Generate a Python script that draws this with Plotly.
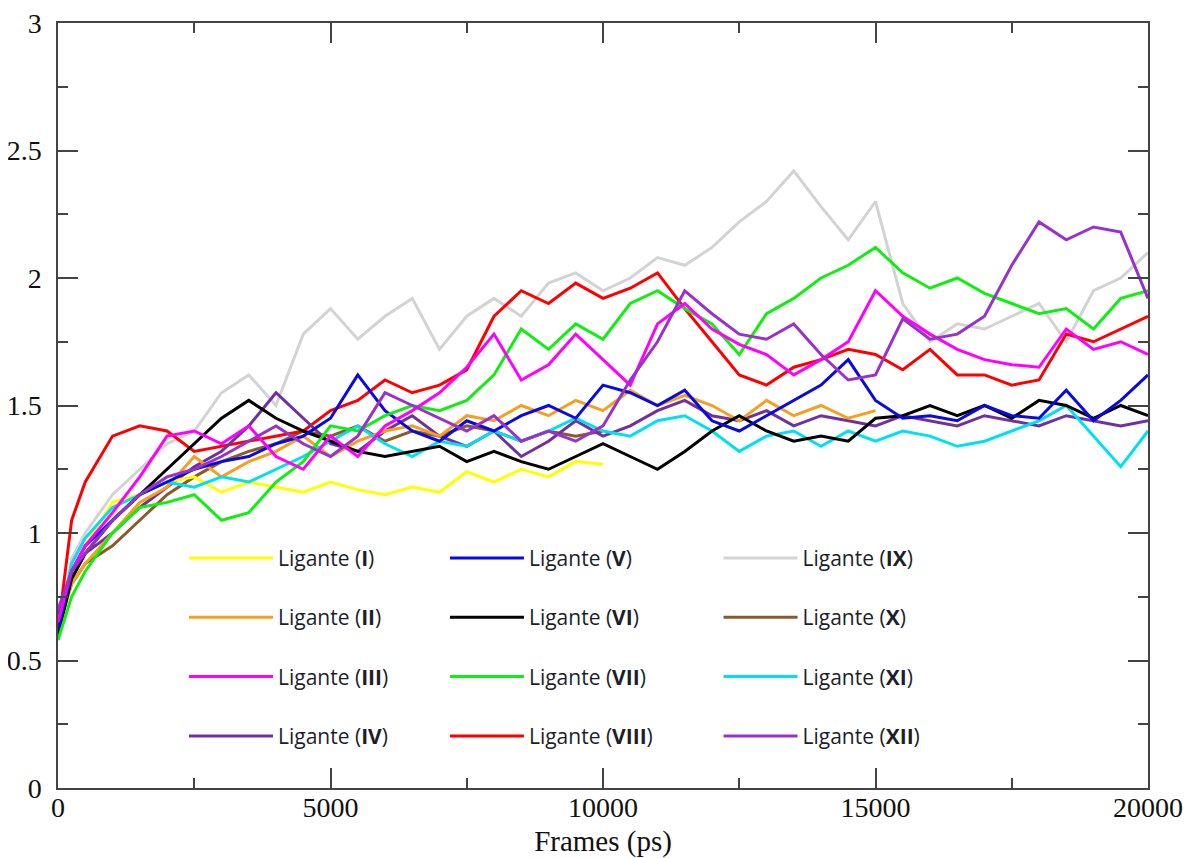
import plotly.graph_objects as go

# ---- data ----
frames = [0, 250, 500, 1000, 1500, 2000, 2500, 3000, 3500, 4000, 4500, 5000,
          5500, 6000, 6500, 7000, 7500, 8000, 8500, 9000, 9500, 10000,
          10500, 11000, 11500, 12000, 12500, 13000, 13500, 14000, 14500, 15000,
          15500, 16000, 16500, 17000, 17500, 18000, 18500, 19000, 19500, 20000]

lig_I = [0.60, 0.82, 0.95, 1.12, 1.15, 1.20, 1.22, 1.16, 1.20, 1.18, 1.16, 1.20,
         1.17, 1.15, 1.18, 1.16, 1.24, 1.20, 1.25, 1.22, 1.28, 1.27]
lig_II = [0.62, 0.80, 0.88, 1.00, 1.12, 1.18, 1.30, 1.22, 1.28, 1.32, 1.38, 1.30,
          1.36, 1.40, 1.42, 1.38, 1.46, 1.44, 1.50, 1.46, 1.52, 1.48,
          1.56, 1.50, 1.54, 1.50, 1.44, 1.52, 1.46, 1.50, 1.45, 1.48]
lig_III = [0.65, 0.85, 0.95, 1.08, 1.22, 1.38, 1.40, 1.35, 1.42, 1.30, 1.25, 1.38,
           1.30, 1.42, 1.48, 1.55, 1.65, 1.78, 1.60, 1.66, 1.78, 1.68,
           1.58, 1.82, 1.90, 1.80, 1.74, 1.70, 1.62, 1.68, 1.75, 1.95,
           1.85, 1.78, 1.72, 1.68, 1.66, 1.65, 1.80, 1.72, 1.75, 1.70]
lig_IV = [0.68, 0.82, 0.92, 1.00, 1.10, 1.18, 1.26, 1.32, 1.42, 1.55, 1.45, 1.35,
          1.32, 1.40, 1.46, 1.38, 1.34, 1.40, 1.30, 1.36, 1.44, 1.38,
          1.42, 1.48, 1.52, 1.46, 1.44, 1.48, 1.42, 1.46, 1.44, 1.42,
          1.46, 1.44, 1.42, 1.46, 1.44, 1.42, 1.46, 1.44, 1.42, 1.44]
lig_V = [0.62, 0.85, 0.95, 1.05, 1.15, 1.20, 1.25, 1.28, 1.30, 1.35, 1.38, 1.45,
         1.62, 1.48, 1.40, 1.36, 1.44, 1.40, 1.46, 1.50, 1.45, 1.58,
         1.55, 1.50, 1.56, 1.44, 1.40, 1.46, 1.52, 1.58, 1.68, 1.52,
         1.45, 1.46, 1.44, 1.50, 1.46, 1.45, 1.56, 1.44, 1.52, 1.62]
lig_VI = [0.60, 0.82, 0.92, 1.05, 1.15, 1.25, 1.35, 1.45, 1.52, 1.45, 1.40, 1.36,
          1.32, 1.30, 1.32, 1.34, 1.28, 1.32, 1.28, 1.25, 1.30, 1.35,
          1.30, 1.25, 1.32, 1.40, 1.46, 1.40, 1.36, 1.38, 1.36, 1.45,
          1.46, 1.50, 1.46, 1.50, 1.45, 1.52, 1.50, 1.45, 1.50, 1.46]
lig_VII = [0.58, 0.75, 0.85, 1.00, 1.10, 1.12, 1.15, 1.05, 1.08, 1.20, 1.28, 1.42,
           1.40, 1.46, 1.50, 1.48, 1.52, 1.62, 1.80, 1.72, 1.82, 1.76,
           1.90, 1.95, 1.88, 1.82, 1.70, 1.86, 1.92, 2.00, 2.05, 2.12,
           2.02, 1.96, 2.00, 1.94, 1.90, 1.86, 1.88, 1.80, 1.92, 1.95]
lig_VIII = [0.62, 1.05, 1.20, 1.38, 1.42, 1.40, 1.32, 1.34, 1.36, 1.38, 1.40, 1.48,
            1.52, 1.60, 1.55, 1.58, 1.64, 1.85, 1.95, 1.90, 1.98, 1.92,
            1.96, 2.02, 1.88, 1.75, 1.62, 1.58, 1.65, 1.68, 1.72, 1.70,
            1.64, 1.72, 1.62, 1.62, 1.58, 1.60, 1.78, 1.75, 1.80, 1.85]
lig_IX = [0.60, 0.90, 1.00, 1.15, 1.25, 1.35, 1.40, 1.55, 1.62, 1.50, 1.78, 1.88,
          1.76, 1.85, 1.92, 1.72, 1.85, 1.92, 1.85, 1.98, 2.02, 1.95,
          2.00, 2.08, 2.05, 2.12, 2.22, 2.30, 2.42, 2.28, 2.15, 2.30,
          1.90, 1.75, 1.82, 1.80, 1.85, 1.90, 1.75, 1.95, 2.00, 2.10]
lig_X = [0.65, 0.80, 0.88, 0.95, 1.05, 1.15, 1.22, 1.28, 1.32, 1.35, 1.40, 1.38,
         1.42, 1.36, 1.40, 1.38, 1.42, 1.40, 1.36, 1.40, 1.38, 1.40]
lig_XI = [0.62, 0.88, 0.98, 1.10, 1.15, 1.20, 1.18, 1.22, 1.20, 1.25, 1.30, 1.36,
          1.42, 1.35, 1.30, 1.36, 1.34, 1.40, 1.36, 1.40, 1.45, 1.40,
          1.38, 1.44, 1.46, 1.40, 1.32, 1.38, 1.40, 1.34, 1.40, 1.36,
          1.40, 1.38, 1.34, 1.36, 1.40, 1.44, 1.50, 1.38, 1.26, 1.40]
lig_XII = [0.70, 0.85, 0.92, 1.05, 1.15, 1.22, 1.25, 1.30, 1.36, 1.42, 1.35, 1.30,
           1.38, 1.55, 1.50, 1.45, 1.40, 1.46, 1.36, 1.40, 1.36, 1.42,
           1.60, 1.75, 1.95, 1.86, 1.78, 1.76, 1.82, 1.70, 1.60, 1.62,
           1.84, 1.76, 1.78, 1.85, 2.05, 2.22, 2.15, 2.20, 2.18, 1.92]

numerals = ["I", "II", "III", "IV", "V", "VI", "VII", "VIII", "IX", "X", "XI", "XII"]
values = [lig_I, lig_II, lig_III, lig_IV, lig_V, lig_VI, lig_VII, lig_VIII,
          lig_IX, lig_X, lig_XI, lig_XII]
colors = ["#ffff00", "#f5a020", "#ff00ff", "#7030a0", "#0a0ae0", "#000000",
          "#11ee11", "#ff0000", "#d3d3d3", "#8b5a2b", "#00e0f0", "#9932cc"]

# drawing order (bottom to top), by index into the lists above
draw_order = [8, 9, 7, 3, 0, 1, 10, 5, 4, 6, 2, 11]

fig = go.Figure()
for i in draw_order:
    legend_id = ["legend", "legend2", "legend3"][i // 4]
    fig.add_trace(go.Scatter(
        x=frames[:len(values[i])], y=values[i], mode="lines",
        line=dict(color=colors[i], width=3),
        name="Ligante (<b>%s</b>)" % numerals[i],
        legend=legend_id, legendrank=i + 1, legendgroup="g%d" % i,
    ))

leg_common = dict(yanchor="top", xanchor="left", y=0.327,
                  bgcolor="rgba(0,0,0,0)", borderwidth=0,
                  font=dict(family="Open Sans", size=21, color="#1e1e2a"),
                  tracegroupgap=29)
fig.update_layout(
    width=1191, height=850,
    margin=dict(l=50, r=51, t=15, b=70, autoexpand=False),
    plot_bgcolor="white", paper_bgcolor="white",
    legend=dict(x=0.1156, itemwidth=84, **leg_common),
    legend2=dict(x=0.3550, itemwidth=74, **leg_common),
    legend3=dict(x=0.6060, itemwidth=74, **leg_common),
    showlegend=True,
)
axis_common = dict(showgrid=False, zeroline=False, showline=True,
                   linecolor="#444444", linewidth=1.5, mirror="ticks",
                   ticks="inside", ticklen=20, tickwidth=1.5, tickcolor="#444444",
                   ticklabeloverflow="allow",
                   tickfont=dict(family="Liberation Serif", size=28, color="#111111"))
fig.update_xaxes(range=[0, 20000], dtick=5000, tick0=0, tickformat="d",
                 minor=dict(dtick=2500, ticks="inside", ticklen=10,
                            tickwidth=1.5, tickcolor="#444444"),
                 title=dict(text="Frames (ps)", standoff=9,
                            font=dict(family="Liberation Serif", size=29, color="#111111")),
                 ticklabelstandoff=-6, **axis_common)
fig.update_yaxes(range=[0, 3], dtick=0.5, tick0=0,
                 minor=dict(dtick=0.25, ticks="inside", ticklen=10,
                            tickwidth=1.5, tickcolor="#444444"),
                 ticklabelstandoff=9, **axis_common)

fig.write_html("out.html")
